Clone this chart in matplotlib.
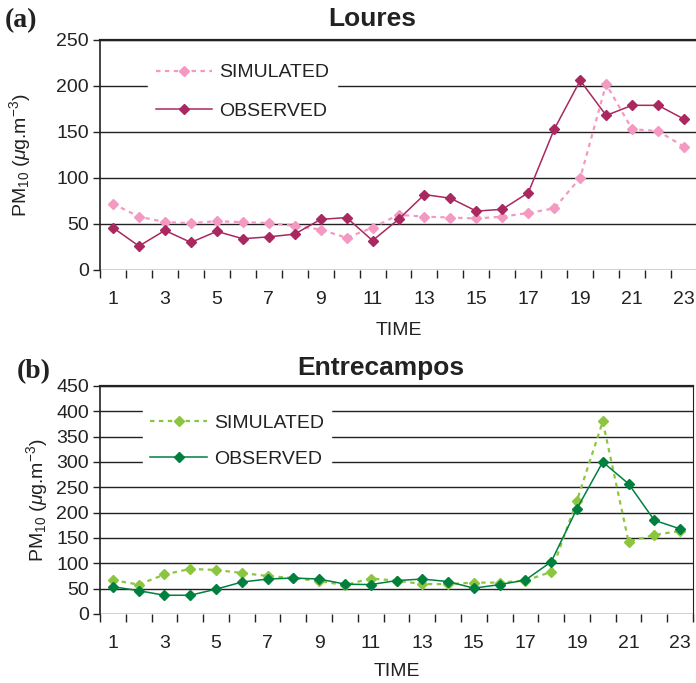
import matplotlib
matplotlib.use("Agg")
import matplotlib.pyplot as plt
import numpy as np

plt.rcParams['font.family'] = ['Liberation Sans', 'DejaVu Sans']
plt.rcParams['mathtext.fontset'] = 'custom'
plt.rcParams['mathtext.rm'] = 'Liberation Sans'
plt.rcParams['mathtext.it'] = 'Liberation Sans:italic'

time = list(range(1, 24))
tick_labels = [str(t) for t in range(1, 24, 2)]

loures_sim = [72, 58, 52, 51, 53, 52, 51, 48, 44, 35, 46, 60, 58, 57, 56, 58, 62, 67, 100, 202, 153, 151, 134]
loures_obs = [46, 26, 43, 30, 42, 34, 36, 39, 55, 57, 32, 55, 82, 78, 64, 66, 84, 153, 206, 168, 179, 179, 164]

entre_sim = [67, 58, 78, 89, 87, 81, 75, 71, 65, 57, 70, 66, 59, 59, 62, 62, 66, 83, 224, 380, 143, 156, 164]
entre_obs = [54, 46, 37, 37, 49, 63, 69, 71, 69, 59, 58, 66, 69, 64, 51, 58, 67, 103, 208, 300, 257, 185, 168]

W, H = 696, 683
fig = plt.figure(figsize=(W / 100, H / 100), dpi=100)


def px_axes(l, t, r, b):
    return fig.add_axes([l / W, 1 - b / H, (r - l) / W, (b - t) / H])


def style(ax, ymax, ystep, sim, obs, csim, cobs, title, title_x, title_pad, tag, tag_xy,
          ylab_x, leg_anchor, leg_spacing, tick_pad, xlab_pad, right_spine):
    ax.set_xlim(0.5, len(time) + 0.5)
    ax.set_ylim(0, ymax)
    ax.set_yticks(np.arange(0, ymax + 1, ystep))
    ax.grid(axis='y', color='#222222', lw=1.0)
    ax.set_axisbelow(True)
    ax.plot(time, sim, color=csim, ls=(0, (2, 2)), lw=1.6, marker='D', ms=5.5,
            mec=csim, mfc=csim, label='SIMULATED', zorder=3)
    ax.plot(time, obs, color=cobs, ls='-', lw=1.1, marker='D', ms=5.2,
            mec=cobs, mfc=cobs, label='OBSERVED', zorder=4)
    ax.set_xticks(np.arange(0.5, len(time) + 1, 1))
    ax.set_xticklabels([])
    ax.set_xticks(range(1, 24, 2), minor=True)
    ax.set_xticklabels(tick_labels, minor=True)
    ax.tick_params(axis='x', which='major', length=6, width=1, color='#222222', direction='out')
    ax.tick_params(axis='x', which='minor', length=0, pad=tick_pad, labelsize=14, labelcolor='#222222')
    ax.tick_params(axis='y', length=5, width=1, color='#222222', labelsize=14,
                   labelcolor='#222222', pad=3)
    for s in ['left', 'top']:
        ax.spines[s].set_color('#222222')
        ax.spines[s].set_linewidth(1.2)
    ax.spines['top'].set_linewidth(1.6)
    ax.spines['bottom'].set_visible(False)
    ax.spines['right'].set_visible(right_spine)
    ax.spines['right'].set_color('#222222')
    ax.set_xlabel('TIME', fontsize=14, color='#222222', labelpad=xlab_pad)
    ax.set_ylabel(r'PM$_{10}$ ($\mu$g.m$^{-3}$)', fontsize=14, color='#222222')
    ax.yaxis.set_label_coords(ylab_x, 0.5)
    ax.set_title(title, fontsize=19, fontweight='bold', color='#222222', pad=title_pad, x=title_x)
    ax.text(tag_xy[0], tag_xy[1], tag, transform=ax.transAxes, fontsize=20, fontweight='bold',
            family='Liberation Serif', va='baseline', ha='left', color='#222222')
    leg = ax.legend(loc='upper left', bbox_to_anchor=leg_anchor, frameon=True,
                    fontsize=14, handlelength=2.9, handletextpad=0.35, labelspacing=leg_spacing,
                    borderaxespad=0, borderpad=0.4, fancybox=False)
    leg.get_frame().set_edgecolor('white')
    leg.get_frame().set_facecolor('white')
    leg.get_frame().set_alpha(1)
    for t in leg.get_texts():
        t.set_color('#222222')


ax1 = px_axes(100, 40, 697, 270)
style(ax1, 250, 50, loures_sim, loures_obs, '#F49AC2', '#A8285F', 'Loures', 0.456, 10,
      '(a)', (-0.159, 1.056), -0.112, (0.08, 0.93), 1.05, 15, 10, False)

ax2 = px_axes(100, 386, 693, 614)
style(ax2, 450, 50, entre_sim, entre_obs, '#8CC63F', '#00803F', 'Entrecampos', 0.474, 8,
      '(b)', (-0.14, 1.035), -0.084, (0.072, 0.91), 0.95, 15, 8, True)

fig.savefig('out.png', dpi=100)
